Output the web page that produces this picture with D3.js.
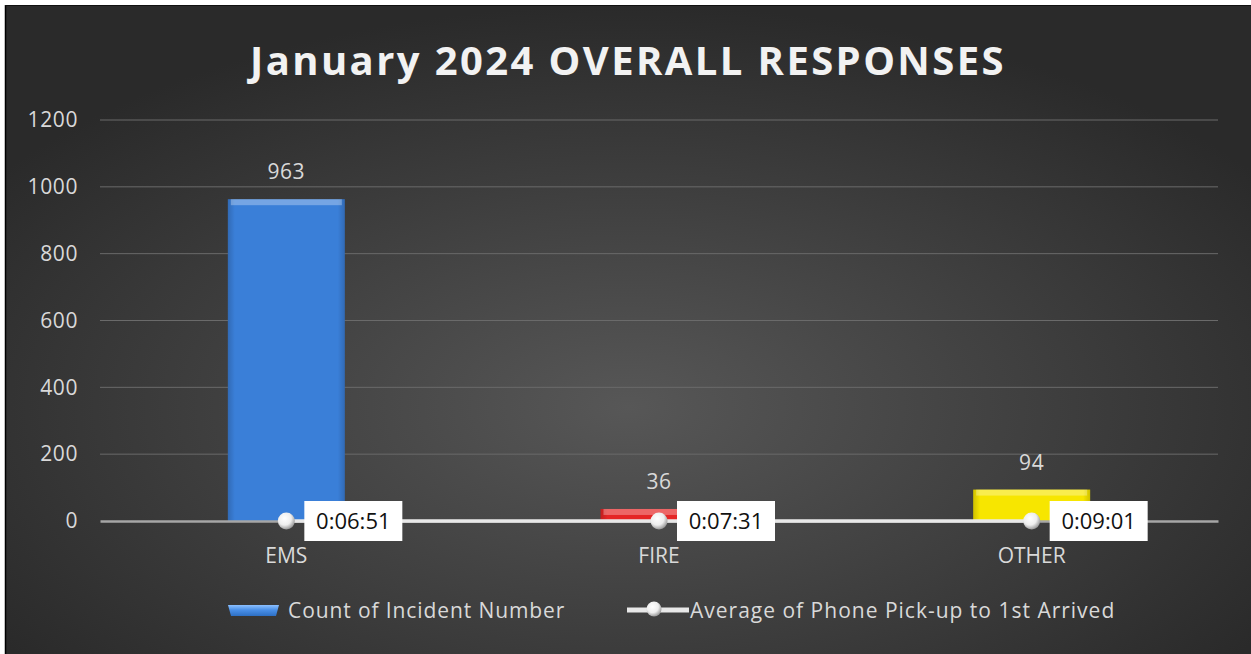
<!DOCTYPE html>
<html>
<head>
<meta charset="utf-8">
<script src="https://cdn.jsdelivr.net/npm/d3@7"></script>
<style>
  html, body { margin: 0; padding: 0; background: #fff; }
  svg { display: block; }
  text { font-family: "Open Sans", "Noto Sans", sans-serif; }
</style>
</head>
<body>
<svg></svg>
<script>
var W = 1251, H = 654;
var margin = {top: 120, left: 100, bottom: 133, right: 33};
var width = W - margin.left - margin.right;
var height = H - margin.top - margin.bottom;

// data
var categories = ["EMS", "FIRE", "OTHER"];
var counts = [963, 36, 94];
var avgTimes = ["0:06:51", "0:07:31", "0:09:01"];
var barColors = ["#3a7fd8", "#e52525", "#f7e600"];
var yTicks = [0, 200, 400, 600, 800, 1000, 1200];

// time string -> fraction of a day (as the spreadsheet plots it)
function dayFraction(s) {
  var p = s.split(":").map(Number);
  return (p[0] * 3600 + p[1] * 60 + p[2]) / 86400;
}

var svg = d3.select("svg").attr("width", W).attr("height", H);
var defs = svg.append("defs");

var bg = defs.append("radialGradient").attr("id", "bg")
  .attr("cx", "50%").attr("cy", "62%").attr("r", "62%");
bg.append("stop").attr("offset", "0%").attr("stop-color", "#575757");
bg.append("stop").attr("offset", "100%").attr("stop-color", "#2a2a2a");

barColors.forEach(function (c, i) {
  var g = defs.append("linearGradient").attr("id", "bar" + i)
    .attr("x1", 0).attr("x2", 1).attr("y1", 0).attr("y2", 0);
  g.append("stop").attr("offset", "0%").attr("stop-color", d3.color(c).darker(0.5));
  g.append("stop").attr("offset", "6%").attr("stop-color", c);
  g.append("stop").attr("offset", "94%").attr("stop-color", c);
  g.append("stop").attr("offset", "100%").attr("stop-color", d3.color(c).darker(0.5));
});

var ball = defs.append("radialGradient").attr("id", "ball")
  .attr("cx", "40%").attr("cy", "35%").attr("r", "65%");
ball.append("stop").attr("offset", "0%").attr("stop-color", "#ffffff");
ball.append("stop").attr("offset", "60%").attr("stop-color", "#eeeeee");
ball.append("stop").attr("offset", "100%").attr("stop-color", "#9a9a9a");

// frame
svg.append("rect").attr("x", 5).attr("y", 5).attr("width", W - 5).attr("height", H - 5)
  .attr("fill", "url(#bg)");
svg.append("line").attr("x1", 5.5).attr("x2", 5.5).attr("y1", 5).attr("y2", H)
  .attr("stroke", "#000").attr("stroke-width", 1.5);
svg.append("line").attr("x1", 5).attr("x2", W).attr("y1", 5.5).attr("y2", 5.5)
  .attr("stroke", "#111").attr("stroke-width", 1);

svg.append("text")
  .attr("x", 628).attr("y", 75)
  .attr("text-anchor", "middle")
  .attr("fill", "#f2f2f2")
  .attr("font-size", 40).attr("font-weight", "bold")
  .attr("letter-spacing", 2.4)
  .text("January 2024 OVERALL RESPONSES");

var g = svg.append("g").attr("transform", "translate(" + margin.left + "," + margin.top + ")");

var x = d3.scaleBand().domain(categories).range([0, width]).paddingInner(0.686).paddingOuter(0.343);
var y = d3.scaleLinear().domain([0, 1200]).range([height, 0]);

// gridlines
g.append("g").selectAll("line").data(yTicks.slice(1)).join("line")
  .attr("x1", 0).attr("x2", width)
  .attr("y1", function (d) { return y(d); }).attr("y2", function (d) { return y(d); })
  .attr("stroke", "#6a6a6a").attr("stroke-width", 1);

// y axis labels
var yAxis = g.append("g").call(d3.axisLeft(y).tickValues(yTicks).tickFormat(d3.format("d"))
  .tickSize(0).tickPadding(22));
yAxis.select(".domain").remove();
yAxis.selectAll("text").attr("fill", "#d9d9d9").attr("font-size", 21)
  .attr("letter-spacing", 0.6)
  .attr("font-family", "'Open Sans', sans-serif");

// bars
var bars = g.append("g").selectAll("g").data(counts).join("g");
bars.append("rect")
  .attr("x", function (d, i) { return x(categories[i]); })
  .attr("y", function (d) { return y(d); })
  .attr("width", x.bandwidth())
  .attr("height", function (d) { return height - y(d); })
  .attr("fill", function (d, i) { return "url(#bar" + i + ")"; });
bars.append("rect")
  .attr("x", function (d, i) { return x(categories[i]) + 3; })
  .attr("y", function (d) { return y(d); })
  .attr("width", x.bandwidth() - 6)
  .attr("height", function (d) { return Math.min(6, height - y(d)); })
  .attr("fill", "#ffffff").attr("opacity", 0.3);

// bar value labels
g.append("g").selectAll("text").data(counts).join("text")
  .attr("x", function (d, i) { return x(categories[i]) + x.bandwidth() / 2; })
  .attr("y", function (d) { return y(d) - 20; })
  .attr("text-anchor", "middle")
  .attr("fill", "#d9d9d9").attr("font-size", 21).attr("letter-spacing", 0.6)
  .text(function (d) { return d; });

// x axis
var xAxis = g.append("g").attr("transform", "translate(0," + height + ")")
  .call(d3.axisBottom(x).tickSize(0).tickPadding(27));
xAxis.select(".domain").attr("stroke", "#a6a6a6").attr("stroke-width", 2.5);
xAxis.selectAll("text").attr("fill", "#d9d9d9").attr("font-size", 21)
  .attr("font-family", "'Open Sans', sans-serif");

// average time line
var times = avgTimes.map(dayFraction);
var line = d3.line()
  .x(function (d, i) { return x(categories[i]) + x.bandwidth() / 2; })
  .y(function (d) { return y(d); });
g.append("path").datum(times)
  .attr("d", line)
  .attr("fill", "none").attr("stroke", "#e8e8e8").attr("stroke-width", 3.5);

g.append("g").selectAll("circle").data(times).join("circle")
  .attr("cx", function (d, i) { return x(categories[i]) + x.bandwidth() / 2; })
  .attr("cy", function (d) { return y(d); })
  .attr("r", 8.5)
  .attr("fill", "url(#ball)");

var tl = g.append("g").selectAll("g").data(times).join("g")
  .attr("transform", function (d, i) {
    return "translate(" + (x(categories[i]) + x.bandwidth() / 2 + 18) + "," + y(d) + ")";
  });
tl.append("rect").attr("x", 0).attr("y", -20).attr("width", 98).attr("height", 40)
  .attr("fill", "#ffffff");
tl.append("text").attr("x", 49).attr("y", 8).attr("text-anchor", "middle")
  .attr("fill", "#111").attr("font-size", 22)
  .text(function (d, i) { return avgTimes[i]; });

// legend
var leg = svg.append("g").attr("transform", "translate(0,610)");
var lg = defs.append("linearGradient").attr("id", "legbar").attr("x1", 0).attr("x2", 0).attr("y1", 0).attr("y2", 1);
lg.append("stop").attr("offset", "0%").attr("stop-color", "#8cc0ff");
lg.append("stop").attr("offset", "45%").attr("stop-color", "#4a90e8");
lg.append("stop").attr("offset", "100%").attr("stop-color", "#2d6fc4");
leg.append("path").attr("d", "M228,-5 L279,-5 L276,6 L231,6 Z").attr("fill", "url(#legbar)");
leg.append("text").attr("x", 288).attr("y", 8).attr("fill", "#d9d9d9").attr("font-size", 21)
  .attr("letter-spacing", 0.9)
  .text("Count of Incident Number");
leg.append("line").attr("x1", 627).attr("x2", 689).attr("y1", 0).attr("y2", 0)
  .attr("stroke", "#e8e8e8").attr("stroke-width", 5);
leg.append("circle").attr("cx", 654).attr("cy", -1).attr("r", 7.5).attr("fill", "url(#ball)");
leg.append("text").attr("x", 690).attr("y", 8).attr("fill", "#d9d9d9").attr("font-size", 21)
  .attr("letter-spacing", 1.0)
  .text("Average of Phone Pick-up to 1st Arrived");
</script>
</body>
</html>
